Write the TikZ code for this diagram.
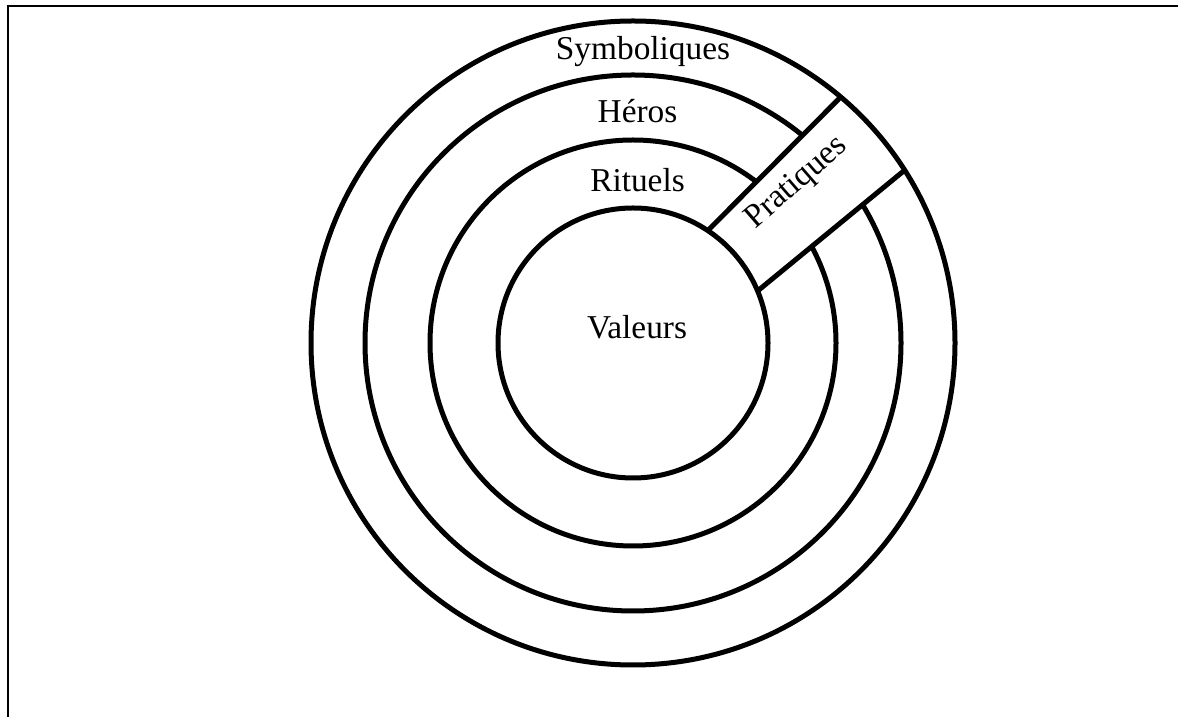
\documentclass[tikz,border=0pt]{standalone}
\usepackage{fontspec}
\setmainfont{Liberation Serif}
\usetikzlibrary{positioning}

\tikzset{
  anneau/.style={black, line width=3.75pt},
  bande/.style={black, line width=3.75pt},
  couche/.style={font=\fontsize{25}{30}\selectfont, anchor=base, inner sep=0pt}
}

\begin{document}
\begin{tikzpicture}[x=0.75pt,y=0.75pt]
\useasboundingbox (0,0) rectangle (1178,717);

% cadre
\draw[black, line width=1.5pt] (8,0) -- (8,711) -- (1178,711);

% centre des cercles
\coordinate (C) at (633,374);

% cercles
\draw[anneau] (C) circle (322);
\draw[anneau] (C) circle (268);
\draw[anneau] (C) circle (203);
\draw[anneau] (C) circle (135);

% bande pratiques
\coordinate (a1) at (706.7,485.3);
\coordinate (a2) at (841,620.3);
\coordinate (b1) at (756.7,425.3);
\coordinate (b2) at (904,546.3);

\begin{scope}[even odd rule]
\clip (C) circle (318) (C) circle (139);
\fill[white] (672,450) -- (875,655) -- (940,575) -- (722,395) -- cycle;
\end{scope}

\draw[bande] (a1) -- (a2);
\draw[bande] (b1) -- (b2);

% textes
\node[couche] (symb) at (643,657) {Symboliques};
\node[couche] (heros) at (637.5,594) {Héros};
\node[couche] (rit) at (637.5,525) {Rituels};
\node[couche] (val) at (637,378) {Valeurs};
\node[couche, anchor=center, rotate=41] (prat) at (797,534) {Pratiques};

\end{tikzpicture}
\end{document}
